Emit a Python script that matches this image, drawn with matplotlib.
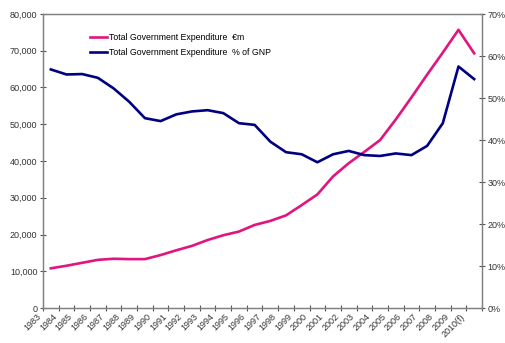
import matplotlib
matplotlib.use('Agg')
from matplotlib import pyplot as plt
from matplotlib.ticker import FuncFormatter
import numpy as np

plt.rcParams['font.family'] = ['Liberation Sans', 'DejaVu Sans']

# 데이터
years = ['1983', '1984', '1985', '1986', '1987', '1988', '1989', '1990', '1991', '1992',
         '1993', '1994', '1995', '1996', '1997', '1998', '1999', '2000', '2001', '2002',
         '2003', '2004', '2005', '2006', '2007', '2008', '2009', '2010(f)']
expend_m = [10800, 11500, 12300, 13100, 13400, 13300, 13300, 14400, 15700, 16900,
            18500, 19800, 20800, 22600, 23700, 25200, 28000, 30900, 35800, 39400,
            42500, 45700, 51300, 57300, 63500, 69500, 75700, 69300]
expend_gnp = [56.8, 55.6, 55.7, 54.8, 52.3, 49.1, 45.2, 44.5, 46.1, 46.8,
              47.1, 46.4, 44.0, 43.6, 39.6, 37.1, 36.6, 34.7, 36.6, 37.4,
              36.4, 36.2, 36.8, 36.4, 38.6, 44.0, 57.5, 54.5]

pink = '#E0157F'
navy = '#000080'
grey = '#808080'

fig = plt.figure(figsize=(5.06, 3.43), dpi=100)
ax = fig.add_axes([43/506, 1-308/343, 439/506, 294/343])
ax2 = ax.twinx()

x = np.arange(len(years))
l1, = ax.plot(x, expend_m, color=pink, lw=1.9, solid_joinstyle='round')
l2, = ax2.plot(x, expend_gnp, color=navy, lw=1.9, solid_joinstyle='round')

ax.set_xlim(-0.5, len(years) - 0.5)
ax.set_ylim(0, 80000)
ax2.set_ylim(0, 70)
ax.set_yticks(np.arange(0, 80001, 10000))
ax2.set_yticks(np.arange(0, 71, 10))
ax.yaxis.set_major_formatter(FuncFormatter(lambda v, p: '{:,.0f}'.format(v)))
ax2.yaxis.set_major_formatter(FuncFormatter(lambda v, p: '%d%%' % v))

# 눈금은 카테고리 경계에
ax.set_xticks(np.arange(-0.5, len(years), 1.0))
ax.set_xticklabels(years + [''], rotation=45, ha='right', fontsize=5.3)

for a in (ax, ax2):
    for s in a.spines.values():
        s.set_color(grey)
        s.set_linewidth(0.9)
    a.tick_params(direction='inout', length=4, width=0.8, color='#555555',
                  labelsize=6.5, labelcolor='#333333', pad=2)
ax.tick_params(axis='x', pad=1)

ax.legend([l1, l2], ['Total Government Expenditure  €m', 'Total Government Expenditure  % of GNP'],
          loc='upper left', bbox_to_anchor=(0.1, 0.948), frameon=False, fontsize=6.3,
          handlelength=1.9, handletextpad=0.25, labelspacing=0.75, borderaxespad=0)

fig.savefig('out.png', dpi=100)
